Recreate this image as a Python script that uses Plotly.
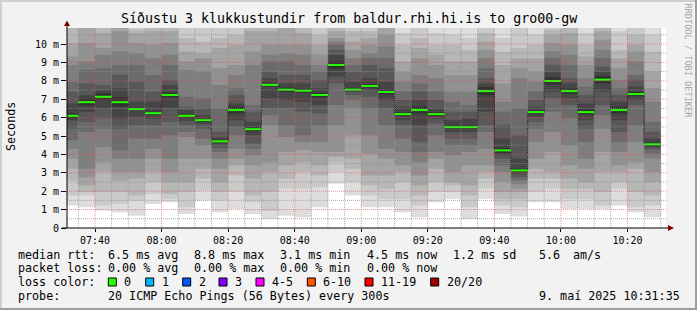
import plotly.graph_objects as go
import pandas as pd

# ---------------- data ----------------
first_interval = "2025-05-09 07:30:00"   # start of first 5-minute step
step_minutes = 5
view_start = "2025-05-09 07:31:35"
view_end = "2025-05-09 10:31:35"

# median rtt per 5-minute step (ms)
median_rtt = [6.10, 6.84, 7.13, 6.84, 6.46, 6.24, 7.23, 6.10, 5.86, 4.71, 6.41, 5.37,
              7.78, 7.52, 7.46, 7.23, 8.86, 7.52, 7.72, 7.39, 6.19, 6.41, 6.19, 5.48,
              5.48, 7.44, 4.22, 3.13, 6.30, 7.99, 7.44, 6.30, 8.06, 6.41, 7.28, 4.55]

# 20 sorted ping rtts (ms) for each 5-minute step (the "smoke")
pings_by_step = [
    [1.22, 1.76, 2.58, 3.22, 3.77, 4.31, 4.77, 5.40, 5.86, 5.95, 6.25, 6.77, 7.41, 7.95, 8.86, 9.32, 10.05, 10.9, 11.5, 12.5],
    [1.13, 1.76, 1.95, 2.31, 2.76, 3.22, 5.22, 5.77, 6.30, 6.65, 7.03, 7.23, 7.86, 8.60, 9.05, 10.05, 10.9, 11.5, 12.0, 13.0],
    [0.95, 1.22, 1.95, 3.04, 3.58, 4.40, 5.40, 5.95, 6.50, 6.95, 7.32, 7.50, 7.77, 8.68, 9.41, 9.78, 10.6, 11.3, 12.0, 13.0],
    [0.85, 1.31, 1.95, 2.58, 3.04, 3.77, 4.22, 5.40, 5.95, 6.59, 7.10, 7.59, 8.32, 8.86, 9.59, 10.7, 11.2, 11.8, 12.5, 13.5],
    [0.67, 1.49, 1.76, 2.67, 3.04, 3.77, 4.86, 5.59, 6.04, 6.38, 6.54, 6.86, 7.95, 8.86, 9.50, 10.05, 10.6, 10.78, 11.2, 12.0],
    [1.31, 1.85, 2.49, 3.04, 3.77, 4.31, 4.86, 5.59, 5.95, 6.15, 6.33, 6.86, 7.41, 8.32, 9.23, 9.96, 10.69, 10.87, 11.3, 12.0],
    [1.40, 1.58, 1.85, 2.49, 3.04, 3.77, 5.04, 5.77, 6.50, 7.10, 7.36, 7.77, 8.05, 8.86, 9.41, 10.05, 10.69, 11.2, 11.8, 12.5],
    [0.76, 1.13, 1.95, 2.49, 3.77, 4.95, 5.22, 5.59, 5.81, 5.99, 6.21, 6.41, 6.59, 7.13, 8.59, 9.05, 9.59, 10.32, 10.87, 11.5],
    [1.49, 2.04, 2.67, 3.22, 3.77, 4.50, 4.86, 5.40, 5.66, 5.81, 5.91, 6.13, 6.50, 7.04, 8.50, 9.23, 9.50, 10.14, 10.87, 11.5],
    [0.85, 1.49, 1.95, 2.49, 3.22, 3.77, 4.13, 4.35, 4.53, 4.64, 4.79, 4.93, 5.22, 6.50, 7.77, 8.68, 9.78, 10.32, 10.87, 11.5],
    [1.03, 1.95, 2.86, 3.40, 3.77, 4.31, 5.04, 5.50, 5.86, 6.22, 6.60, 6.77, 7.23, 7.59, 8.32, 8.86, 9.96, 10.5, 11.3, 12.0],
    [0.75, 1.40, 1.76, 2.67, 3.40, 3.95, 4.31, 4.59, 5.04, 5.26, 5.48, 5.77, 6.32, 6.68, 8.86, 9.59, 10.69, 11.2, 11.8, 12.5],
    [0.49, 0.94, 1.95, 3.04, 3.58, 5.59, 6.13, 6.50, 7.04, 7.70, 7.86, 8.14, 8.50, 9.05, 9.41, 9.96, 10.69, 11.2, 11.8, 12.5],
    [0.67, 2.13, 2.67, 3.40, 4.13, 4.95, 5.59, 6.50, 6.95, 7.40, 7.63, 7.86, 8.32, 9.05, 9.50, 9.96, 10.87, 11.3, 11.8, 12.5],
    [0.58, 2.13, 3.04, 3.58, 4.22, 4.68, 5.04, 6.32, 6.86, 7.36, 7.56, 7.86, 8.32, 8.86, 9.41, 9.96, 10.6, 11.2, 11.8, 12.5],
    [1.13, 2.22, 2.86, 3.40, 4.13, 4.68, 5.59, 6.22, 6.68, 7.10, 7.36, 7.59, 8.05, 8.50, 8.86, 9.41, 9.96, 10.5, 10.96, 11.5],
    [2.40, 3.04, 3.58, 3.86, 4.13, 5.59, 6.68, 7.86, 8.23, 8.66, 9.06, 9.41, 9.68, 9.96, 10.14, 10.32, 10.69, 10.87, 11.2, 11.8],
    [1.76, 2.49, 3.22, 3.77, 5.04, 6.50, 6.95, 7.23, 7.41, 7.46, 7.58, 7.95, 8.50, 8.86, 9.23, 9.68, 10.14, 10.69, 11.1, 11.6],
    [1.13, 1.76, 2.31, 2.86, 4.04, 5.04, 6.50, 7.13, 7.50, 7.64, 7.80, 8.14, 8.86, 9.23, 9.50, 9.96, 10.32, 10.69, 11.1, 11.6],
    [1.13, 1.58, 2.13, 2.86, 3.77, 4.31, 5.59, 6.50, 6.95, 7.26, 7.52, 7.95, 8.68, 9.23, 9.87, 10.5, 10.87, 11.2, 11.7, 12.3],
    [0.85, 1.58, 2.49, 3.04, 3.40, 4.13, 4.86, 5.59, 5.86, 6.10, 6.28, 6.59, 6.95, 7.41, 7.95, 8.50, 9.05, 9.96, 10.6, 11.2],
    [0.58, 1.22, 1.76, 2.31, 2.86, 3.58, 4.13, 4.68, 5.59, 6.22, 6.60, 6.95, 7.41, 7.86, 8.32, 9.23, 9.78, 10.32, 10.87, 11.4],
    [1.40, 1.95, 2.49, 3.22, 3.77, 4.13, 5.04, 5.68, 5.95, 6.10, 6.28, 6.50, 6.95, 7.41, 8.14, 8.86, 9.41, 9.96, 10.6, 11.2],
    [1.58, 1.95, 2.31, 2.49, 3.04, 3.95, 4.50, 4.86, 5.22, 5.40, 5.56, 5.86, 6.32, 6.86, 7.41, 8.32, 9.05, 9.96, 10.5, 11.0],
    [0.49, 1.13, 1.76, 2.31, 3.40, 4.13, 4.50, 4.86, 5.22, 5.40, 5.56, 5.95, 6.32, 6.68, 7.41, 8.32, 9.05, 9.68, 10.32, 10.87],
    [1.58, 2.13, 2.67, 3.04, 3.40, 4.31, 5.22, 5.59, 6.32, 7.22, 7.66, 7.86, 8.14, 8.68, 9.23, 9.68, 10.14, 10.6, 10.96, 11.5],
    [0.76, 1.22, 1.58, 1.95, 2.49, 3.04, 3.40, 3.77, 3.95, 4.09, 4.35, 4.86, 5.59, 6.32, 6.86, 7.86, 8.86, 9.59, 10.32, 10.87],
    [0.63, 1.13, 1.58, 1.95, 2.13, 2.40, 2.58, 2.76, 2.95, 3.04, 3.22, 3.77, 5.04, 6.50, 8.14, 8.68, 9.23, 9.78, 10.87, 11.3],
    [1.40, 1.95, 2.67, 3.22, 3.77, 4.68, 5.40, 5.77, 6.04, 6.21, 6.39, 6.59, 6.95, 7.41, 7.95, 8.50, 9.23, 9.96, 10.5, 11.1],
    [1.40, 2.13, 2.67, 3.04, 4.13, 5.22, 6.32, 7.04, 7.41, 7.80, 8.18, 8.50, 8.86, 9.23, 9.59, 10.05, 10.5, 10.78, 11.1, 11.6],
    [1.03, 1.58, 2.13, 2.67, 3.40, 4.50, 5.95, 6.68, 7.04, 7.30, 7.58, 7.86, 8.14, 8.86, 9.41, 9.96, 10.6, 11.1, 11.6, 12.2],
    [1.03, 1.58, 2.13, 2.49, 3.22, 3.77, 4.68, 5.40, 5.86, 6.17, 6.43, 6.77, 7.23, 7.68, 8.14, 8.86, 9.32, 9.96, 10.6, 11.2],
    [1.03, 1.22, 1.95, 3.04, 4.13, 5.40, 6.13, 6.68, 7.41, 7.86, 8.26, 8.50, 8.77, 9.23, 9.68, 10.23, 10.69, 11.1, 11.6, 12.2],
    [1.22, 2.13, 2.49, 3.04, 3.40, 4.13, 4.68, 5.22, 5.86, 6.22, 6.60, 6.86, 7.23, 7.59, 8.05, 8.68, 9.23, 9.68, 10.69, 11.2],
    [0.85, 1.13, 1.95, 3.22, 3.58, 4.68, 5.59, 6.68, 6.95, 7.17, 7.39, 7.68, 8.05, 8.32, 9.05, 9.59, 9.96, 10.5, 11.1, 11.6],
    [0.58, 1.22, 1.76, 2.49, 3.04, 3.77, 4.04, 4.28, 4.40, 4.46, 4.64, 4.86, 5.22, 5.77, 6.86, 7.59, 8.50, 9.59, 10.5, 11.0],
]

y_tick_values = [0, 1, 2, 3, 4, 5, 6, 7, 8, 9, 10]
y_tick_labels = ["0", "1 m", "2 m", "3 m", "4 m", "5 m", "6 m", "7 m", "8 m", "9 m", "10 m"]

title_text = "Síðustu 3 klukkustundir from baldur.rhi.hi.is to gro00-gw"
y_title = "Seconds"
legend_rtt = ["median rtt:", "6.5 ms avg", "8.8 ms max", "3.1 ms min", "4.5 ms now", "1.2 ms sd", "5.6", "am/s"]
legend_loss = ["packet loss:", "0.00 % avg", "0.00 % max", "0.00 % min", "0.00 % now"]
loss_label = "loss color:"
loss_bins = ["0", "1", "2", "3", "4-5", "6-10", "11-19", "20/20"]
loss_colors = ["#26ff00", "#00b8ff", "#0059ff", "#7e00ff", "#ff00ff", "#ff5500", "#ff0000", "#a10000"]
probe_label = "probe:"
probe_text = "20 ICMP Echo Pings (56 Bytes) every 300s"
stamp_text = "9. maí 2025 10:31:35"
watermark = "RRDTOOL / TOBI OETIKER"

# ---------------- geometry ----------------
W, H = 697, 310
PL, PR, PT, PB = 67, 666, 28, 228  # plot area in px
MONO = "DejaVu Sans Mono"


def px(x):
    return (x - PL) / (PR - PL)


def py(y):
    return (PB - y) / (PB - PT)


t0 = pd.Timestamp(first_interval)
step = pd.Timedelta(minutes=step_minutes)
n = len(median_rtt)
starts = [t0 + step * k for k in range(n)]
centers = [s + step / 2 for s in starts]
fmt = "%Y-%m-%d %H:%M:%S"

fig = go.Figure()

# smoke bands: outermost (lightest) first, innermost (darkest) last
half = 10
for i in range(1, half + 1):
    lo = [row[i - 1] for row in pings_by_step]
    hi = [row[20 - i] for row in pings_by_step]
    g = int(190 / half * (half - i)) + 50
    fig.add_trace(go.Bar(
        x=[c.strftime(fmt) for c in centers],
        y=[h - l for h, l in zip(hi, lo)],
        base=lo,
        width=step_minutes * 60 * 1000,
        marker=dict(color=f"rgb({g},{g},{g})", line=dict(width=0)),
        hoverinfo="skip", showlegend=False,
    ))

# median step line (dark) + green median segments
edges = starts + [starts[-1] + step]
fig.add_trace(go.Scatter(
    x=[e.strftime(fmt) for e in edges], y=median_rtt + [median_rtt[-1]],
    mode="lines", line=dict(shape="hv", color="#202020", width=1),
    hoverinfo="skip", showlegend=False,
))
gx, gy = [], []
for s, m in zip(starts, median_rtt):
    gx += [s.strftime(fmt), (s + step).strftime(fmt), None]
    gy += [m, m, None]
fig.add_trace(go.Scatter(
    x=gx, y=gy, mode="lines", line=dict(color=loss_colors[0], width=2),
    hoverinfo="skip", showlegend=False,
))

shapes = []
minor_col = "rgba(143,143,143,0.75)"
major_col = "rgba(222,79,79,0.6)"
dash = "1px,1px"
# vertical grid every 5 minutes
for k in range(1, n + 1):
    t = t0 + step * k
    col = major_col if t.minute % 20 == 0 else minor_col
    shapes.append(dict(type="line", xref="x", yref="paper", x0=t.strftime(fmt), x1=t.strftime(fmt),
                       y0=0, y1=1, line=dict(color=col, width=1, dash=dash), layer="above"))
# horizontal grid every 0.5 m
for j in range(1, 22):
    v = j * 0.5
    col = major_col if j % 2 == 0 else minor_col
    shapes.append(dict(type="line", xref="paper", yref="y", x0=0, x1=1, y0=v, y1=v,
                       line=dict(color=col, width=1, dash=dash), layer="above"))

# axis extensions and arrows
arrow_col = "#800000"
shapes.append(dict(type="line", xref="paper", yref="paper", x0=px(67), x1=px(67), y0=py(228), y1=py(25),
                   line=dict(color="#000", width=1), layer="above"))
shapes.append(dict(type="line", xref="paper", yref="paper", x0=px(62), x1=px(669), y0=py(228), y1=py(228),
                   line=dict(color="#000", width=1), layer="above"))
shapes.append(dict(type="path", xref="paper", yref="paper",
                   path=f"M {px(64)} {py(26)} L {px(70)} {py(26)} L {px(67)} {py(20.5)} Z",
                   fillcolor=arrow_col, line=dict(width=0), layer="above"))
shapes.append(dict(type="path", xref="paper", yref="paper",
                   path=f"M {px(668)} {py(225)} L {px(668)} {py(231)} L {px(674)} {py(228)} Z",
                   fillcolor=arrow_col, line=dict(width=0), layer="above"))

# frame (3d shade)
shapes.append(dict(type="rect", xref="paper", yref="paper", x0=px(0), x1=px(697), y0=py(0), y1=py(2),
                   fillcolor="#cfcfcf", line=dict(width=0), layer="above"))
shapes.append(dict(type="rect", xref="paper", yref="paper", x0=px(0), x1=px(2), y0=py(0), y1=py(310),
                   fillcolor="#cfcfcf", line=dict(width=0), layer="above"))
shapes.append(dict(type="rect", xref="paper", yref="paper", x0=px(0), x1=px(697), y0=py(308), y1=py(310),
                   fillcolor="#9e9e9e", line=dict(width=0), layer="above"))
shapes.append(dict(type="rect", xref="paper", yref="paper", x0=px(695), x1=px(697), y0=py(0), y1=py(310),
                   fillcolor="#9e9e9e", line=dict(width=0), layer="above"))

ann = []


def text(x, y, s, size=11.7, anchor="left", color="#000", angle=0):
    ann.append(dict(xref="paper", yref="paper", x=px(x), y=py(y), text=s, showarrow=False,
                    xanchor=anchor, yanchor="middle", textangle=angle,
                    font=dict(family=MONO, size=size, color=color)))


text(348.5, 18.5, title_text, size=13.3, anchor="center")
text(11, 127, y_title, size=11.7, anchor="center", angle=-90)
text(687.5, 61, watermark, size=8.6, anchor="center", color="#a8a8a8", angle=90)

col_x = [15.5, 106.3, 192.3, 278.3, 364.7, 450.7, 537.3, 570.7]
for xx, s in zip(col_x, legend_rtt):
    text(xx, 254.7, s)
for xx, s in zip(col_x, legend_loss):
    text(xx, 268.3, s)
text(15.5, 282.3, loss_label)
box_x = [108.3, 145.7, 182.7, 219.0, 256.0, 307.3, 365.0, 430.7]
for bx, lab, c in zip(box_x, loss_bins, loss_colors):
    shapes.append(dict(type="rect", xref="paper", yref="paper", x0=px(bx), x1=px(bx + 8), y0=py(278), y1=py(286),
                       fillcolor=c, line=dict(color="#000", width=1), layer="above"))
    text(bx + 14, 282.3, lab)
text(15.5, 296.3, probe_label)
text(106.3, 296.3, probe_text)
text(682, 296.3, stamp_text, anchor="right")

fig.update_layout(
    width=W, height=H,
    margin=dict(l=PL, r=W - PR, t=PT, b=H - PB, pad=0),
    paper_bgcolor="#f2f2f2", plot_bgcolor="#ffffff",
    barmode="overlay", showlegend=False,
    font=dict(family=MONO, size=10, color="#000"),
    shapes=shapes, annotations=ann,
)
fig.update_xaxes(
    type="date", range=[view_start, view_end], showgrid=False, zeroline=False,
    showline=False, ticks="outside", ticklen=3, tickcolor="#000",
    tickformat="%H:%M", dtick=20 * 60 * 1000, tick0="2025-05-09 07:40:00",
    tickfont=dict(family=MONO, size=10, color="#000"),
)
fig.update_yaxes(
    range=[0, 10.87], tickmode="array", tickvals=y_tick_values, ticktext=y_tick_labels,
    showgrid=False, zeroline=False, showline=False, ticks="outside", ticklen=5, tickcolor="#000",
    tickfont=dict(family=MONO, size=10, color="#000"),
)

fig.write_html("out.html", config={"displayModeBar": False})
